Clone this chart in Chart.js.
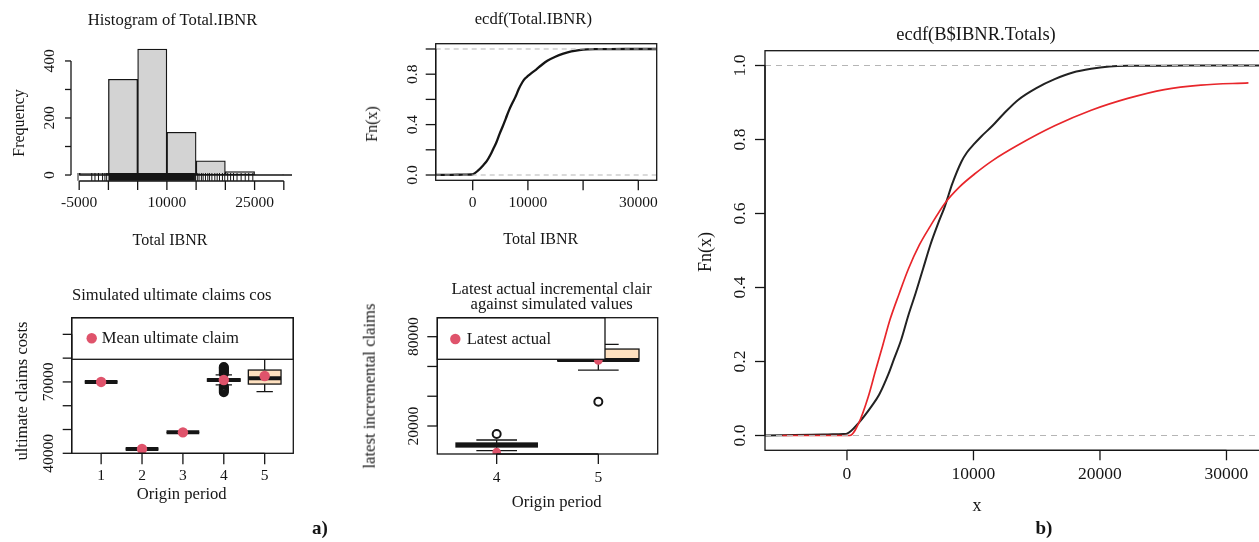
<!DOCTYPE html>
<html><head><meta charset="utf-8">
<script src="https://cdn.jsdelivr.net/npm/chart.js@4.4.1/dist/chart.umd.min.js"></script>
<style>
html,body{margin:0;padding:0;background:#fff;}
#page{position:relative;width:1259px;height:542px;overflow:hidden;background:#fff;font-family:"Liberation Serif","Times New Roman",serif;color:#151515;}
canvas{position:absolute;left:0;top:0;}
.t{position:absolute;white-space:nowrap;line-height:1;transform:translate(-50%,-50%);}
.r{transform:translate(-50%,-50%) rotate(-90deg);}
.l{transform:translate(0,-50%);}
</style></head><body><div id="page">
<canvas id="c1" width="1259" height="542"></canvas>
<canvas id="c2" width="1259" height="542"></canvas>
<canvas id="c3" width="1300" height="542"></canvas>
<canvas id="c4" width="1259" height="542"></canvas>
<canvas id="c5" width="1259" height="542"></canvas>

<div class="t" style="left:172.5px;top:19.5px;font-size:16.6px">Histogram of Total.IBNR</div>
<div class="t r" style="left:18.5px;top:123px;font-size:16px">Frequency</div>
<div class="t" style="left:170px;top:240px;font-size:16px">Total IBNR</div>
<div class="t" style="left:533.3px;top:19.3px;font-size:16.6px">ecdf(Total.IBNR)</div>
<div class="t r" style="left:371.7px;top:123.8px;font-size:16px">Fn(x)</div>
<div class="t" style="left:540.7px;top:239px;font-size:16px">Total IBNR</div>
<div class="t" style="left:171.7px;top:295px;font-size:16.6px">Simulated ultimate claims cos</div>
<div class="t r" style="left:21.7px;top:391px;font-size:16.6px">ultimate claims costs</div>
<div class="t" style="left:181.7px;top:494px;font-size:16.6px">Origin period</div>
<div class="t" style="left:551.7px;top:289.3px;font-size:16.6px">Latest actual incremental clair</div>
<div class="t" style="left:551.7px;top:304.3px;font-size:16.6px">against simulated values</div>
<div class="t r" style="left:370px;top:386px;font-size:16.6px">latest incremental claims</div>
<div class="t" style="left:556.7px;top:501.7px;font-size:16.6px">Origin period</div>
<div class="t l" style="left:101.7px;top:338.3px;font-size:16.6px">Mean ultimate claim</div>
<div class="t l" style="left:466.7px;top:339px;font-size:16.6px">Latest actual</div>
<div class="t" style="left:320px;top:526.7px;font-size:19px;font-weight:bold">a)</div>
<div class="t" style="left:976px;top:34px;font-size:18.5px">ecdf(B$IBNR.Totals)</div>
<div class="t r" style="left:705px;top:252px;font-size:18px">Fn(x)</div>
<div class="t" style="left:977px;top:505px;font-size:18px">x</div>
<div class="t" style="left:1044px;top:527px;font-size:19px;font-weight:bold">b)</div>
</div>
<script>
// ---------------- DATA ----------------
const histBinStart = [-5000, 0, 5000, 10000, 15000, 20000, 25000];
const histBinEnd   = [0, 5000, 10000, 15000, 20000, 25000, 30000];
const histCounts   = [6, 336, 442, 150, 50, 12, 1];
const rugDenseRange = [0, 14800];
const rugSparse = [-5200, -2850, -2300, -1700, -1000, -600, -300, 14900, 15200, 15500, 15900, 16200, 16600, 17000, 17300, 17700, 18200, 18600, 19000, 19500, 19900, 20400, 20900, 21400, 22000, 22700, 23400, 24000, 24700];
const histXTicks  = [-5000, 0, 5000, 10000, 15000, 20000, 25000, 30000];
const histXLabels = ['-5000', '', '', '10000', '', '', '25000', ''];
const histYTicks  = [0, 100, 200, 300, 400];
const histYLabels = ['0', '', '200', '', '400'];

const ecdfX = [-7000, -5200, -2800, -1500, -300, 0, 950, 1965, 2540, 3265, 3700, 4280, 4855, 5430, 6010, 6590, 7170, 7745, 7900, 8320, 9045, 9480, 10000, 10635, 11500, 12370, 13525, 14970, 16420, 17860, 19300, 20750, 22200, 25000, 31900, 40000];
const ecdfY = [0, 0.001, 0.002, 0.003, 0.004, 0.005, 0.035, 0.08, 0.11, 0.165, 0.205, 0.258, 0.325, 0.385, 0.45, 0.515, 0.57, 0.62, 0.636, 0.68, 0.74, 0.765, 0.786, 0.809, 0.837, 0.869, 0.907, 0.939, 0.963, 0.981, 0.991, 0.997, 0.999, 0.9995, 1, 1];
const fitX = [-5100, 230, 950, 1676, 2254, 2832, 3410, 4133, 4855, 5722, 6590, 7745, 8900, 10058, 11503, 13526, 16416, 19306, 22196, 25087, 27977, 31734];
const fitY = [0, 0, 0.035, 0.104, 0.175, 0.244, 0.314, 0.384, 0.45, 0.515, 0.566, 0.628, 0.672, 0.706, 0.743, 0.785, 0.837, 0.879, 0.911, 0.935, 0.947, 0.953];
const ecdfXTicks = [0, 10000, 20000, 30000];
const ecdfXLabelsSmall = ['0', '10000', '', '30000'];
const ecdfXLabelsBig = ['0', '10000', '20000', '30000'];
const ecdfYTicks = [0, 0.2, 0.4, 0.6, 0.8, 1];
const ecdfYLabelsSmall = ['0.0', '', '0.4', '', '0.8', ''];
const ecdfYLabelsBig = ['0.0', '0.2', '0.4', '0.6', '0.8', '1.0'];

const ultPeriods = [1, 2, 3, 4, 5];
const ultQ1  = [70000, 41800, 48800, 70300, 69100];
const ultMed = [70000, 41800, 48800, 70800, 71500];
const ultQ3  = [70000, 41800, 48800, 71300, 75000];
const ultLo  = [70000, 41800, 48800, 68800, 65900];
const ultHi  = [70000, 41800, 48800, 73000, 79600];
const ultOut = [[], [], [], [65700, 66200, 66700, 67200, 67700, 68200, 73400, 73900, 74400, 74900, 75400, 75900, 76300], []];
const ultMean = [70000, 41800, 48800, 70800, 72500];
const ultXLabels = ['1', '2', '3', '4', '5'];
const ultYTicks = [40000, 50000, 60000, 70000, 80000, 90000];
const ultYLabels = ['40000', '', '', '70000', '', ''];

const latPeriods = [4, 5];
const latQ1  = [5900, 63700];
const latMed = [7240, 64300];
const latQ3  = [8580, 71700];
const latLo  = [3400, 57600];
const latHi  = [10600, 74900];
const latOut = [[14600], [36300]];
const latActual = [2500, 64000];
const latXLabels = ['4', '5'];
const latYTicks = [20000, 40000, 60000, 80000];
const latYLabels = ['20000', '', '', '80000'];

// ---------------- DRAWING ----------------
const FONT = '"Liberation Serif","Times New Roman",serif';
const INK = '#151515';
const RED = '#DF536B';
const extras = {};

function seg(ctx, x0, y0, x1, y1) { ctx.beginPath(); ctx.moveTo(x0, y0); ctx.lineTo(x1, y1); ctx.stroke(); }

const rStyle = {
  id: 'rstyle',
  beforeDatasetsDraw(chart) {
    const e = extras[chart.canvas.id]; if (!e || !e.boxes) return;
    const b = e.boxes, ctx = chart.ctx, xs = chart.scales.x, ys = chart.scales.y, a = chart.chartArea;
    ctx.save();
    ctx.beginPath(); ctx.rect(a.left, a.top, a.right - a.left, a.bottom - a.top); ctx.clip();
    ctx.strokeStyle = INK;
    for (let i = 0; i < b.pos.length; i++) {
      const px = xs.getPixelForValue(b.pos[i]);
      const hw = xs.getPixelForValue(b.pos[i] + 0.4) - px;
      const y1 = ys.getPixelForValue(b.q1[i]), y3 = ys.getPixelForValue(b.q3[i]);
      const ym = ys.getPixelForValue(b.med[i]);
      const ylo = ys.getPixelForValue(b.lo[i]), yhi = ys.getPixelForValue(b.hi[i]);
      ctx.lineWidth = 1.3;
      seg(ctx, px, y3, px, yhi); seg(ctx, px, y1, px, ylo);
      seg(ctx, px - hw / 2, yhi, px + hw / 2, yhi); seg(ctx, px - hw / 2, ylo, px + hw / 2, ylo);
      ctx.fillStyle = '#FFE1C0';
      ctx.fillRect(px - hw, y3, 2 * hw, y1 - y3);
      ctx.strokeRect(px - hw, y3, 2 * hw, y1 - y3);
      ctx.lineWidth = 4;
      seg(ctx, px - hw, ym, px + hw, ym);
    }
    ctx.restore();
  },
  afterDatasetsDraw(chart) {
    const e = extras[chart.canvas.id]; if (!e) return;
    const ctx = chart.ctx, a = chart.chartArea, xs = chart.scales.x, ys = chart.scales.y;
    ctx.save();
    ctx.strokeStyle = INK; ctx.fillStyle = INK; ctx.lineWidth = 1.3;
    if (e.legend) {
      const L = e.legend;
      ctx.fillStyle = '#fff';
      ctx.fillRect(L.x0, L.y0, L.x1 - L.x0, L.y1 - L.y0);
      ctx.strokeRect(L.x0, L.y0, L.x1 - L.x0, L.y1 - L.y0);
      ctx.fillStyle = RED;
      ctx.beginPath(); ctx.arc(L.dx, L.dy, 5.2, 0, Math.PI * 2); ctx.fill();
      ctx.fillStyle = INK;
    }
    if (e.box) ctx.strokeRect(a.left, a.top, a.right - a.left, a.bottom - a.top);
    ctx.font = e.font + 'px ' + FONT;
    ctx.textAlign = 'center'; ctx.textBaseline = 'middle';
    if (e.x) {
      const y0 = a.bottom;
      const p = e.x.ticks.map(v => xs.getPixelForValue(v));
      seg(ctx, p[0], y0, p[p.length - 1], y0);
      p.forEach((px, i) => {
        seg(ctx, px, y0, px, y0 + e.tick);
        if (e.x.labels[i]) ctx.fillText(e.x.labels[i], px, y0 + e.lab);
      });
    }
    if (e.y) {
      const x0 = a.left;
      const p = e.y.ticks.map(v => ys.getPixelForValue(v));
      seg(ctx, x0, p[0], x0, p[p.length - 1]);
      p.forEach((py, i) => {
        seg(ctx, x0, py, x0 - (e.ytick || e.tick), py);
        if (e.y.labels[i]) {
          ctx.save(); ctx.translate(x0 - e.lab, py); ctx.rotate(-Math.PI / 2);
          ctx.fillText(e.y.labels[i], 0, 0); ctx.restore();
        }
      });
    }
    ctx.restore();
  }
};
Chart.register(rStyle);

function makeChart(id, ar, xr, yr, datasets, extra, xTickOpt) {
  const cv = document.getElementById(id);
  extras[id] = extra;
  return new Chart(cv, {
    type: 'scatter',
    data: { datasets },
    options: {
      responsive: false, animation: false, devicePixelRatio: 1, events: [],
      layout: { padding: { left: ar[0], top: ar[1], right: cv.width - ar[2], bottom: cv.height - ar[3] } },
      plugins: { legend: { display: false }, tooltip: { enabled: false }, title: { display: false } },
      scales: {
        x: { type: 'linear', min: xr[0], max: xr[1], display: false, offset: false, ticks: xTickOpt || {} },
        y: { type: 'linear', min: yr[0], max: yr[1], display: false }
      }
    }
  });
}
function lineDS(xsArr, ysArr, color, width, extra) {
  return Object.assign({
    type: 'line', data: xsArr.map((x, i) => ({ x, y: ysArr[i] })),
    borderColor: color, borderWidth: width, pointRadius: 0, tension: 0, fill: false
  }, extra || {});
}

// Panel 1: histogram
makeChart('c1', [71, 43, 292, 181], [-6400, 31400], [-21, 463], [
  lineDS(rugDenseRange, [-6.6, -6.6], INK, 7.7, { borderCapStyle: 'butt', order: 0 }),
  { type: 'scatter', data: rugSparse.map(x => ({ x, y: -6.6 })), pointStyle: 'line', rotation: 90,
    pointRadius: 3.9, borderColor: INK, borderWidth: 1, order: 1 },
  lineDS([histBinStart[0], 31400], [0, 0], INK, 1.3, { order: 2 }),
  { type: 'bar', data: histBinStart.map((s, i) => ({ x: (s + histBinEnd[i]) / 2, y: [0, histCounts[i]] })),
    backgroundColor: '#d3d3d3', borderColor: INK, borderWidth: 1.3, borderSkipped: false,
    barPercentage: 1, categoryPercentage: 1, grouped: false, order: 3 }
], { font: 15.5, tick: 9, ytick: 6, lab: 21.5,
     x: { ticks: histXTicks, labels: histXLabels }, y: { ticks: histYTicks, labels: histYLabels } },
   { stepSize: 5000, includeBounds: false });

// Panel 2: small ecdf
makeChart('c2', [435.7, 43.7, 656.7, 180.3], [-6703, 33333], [-0.042, 1.042], [
  lineDS([-6703, 33333], [0, 0], '#b5b5b5', 1, { borderDash: [5, 4], order: 0 }),
  lineDS([-6703, 33333], [1, 1], '#b5b5b5', 1, { borderDash: [5, 4], order: 1 }),
  lineDS(ecdfX, ecdfY, INK, 2.3, { cubicInterpolationMode: 'monotone', order: 2 })
], { box: true, font: 15.5, tick: 10, lab: 23,
     x: { ticks: ecdfXTicks, labels: ecdfXLabelsSmall }, y: { ticks: ecdfYTicks, labels: ecdfYLabelsSmall } });

// Panel 3: big ecdf with fitted curve
makeChart('c3', [765, 50.7, 1270, 450.3], [-6480, 33440], [-0.04, 1.04], [
  lineDS([-6480, 33440], [0, 0], '#b5b5b5', 1.1, { borderDash: [6, 5], order: 0 }),
  lineDS([-6480, 33440], [1, 1], '#b5b5b5', 1.1, { borderDash: [6, 5], order: 1 }),
  lineDS(fitX, fitY, '#e8262b', 1.7, { cubicInterpolationMode: 'monotone', order: 2 }),
  lineDS(ecdfX, ecdfY, '#222', 2, { cubicInterpolationMode: 'monotone', order: 3 })
], { box: true, font: 17.5, tick: 10, lab: 24.5,
     x: { ticks: ecdfXTicks, labels: ecdfXLabelsBig }, y: { ticks: ecdfYTicks, labels: ecdfYLabelsBig } });

// Panel 4: simulated ultimate claims boxplots
makeChart('c4', [71.7, 317.7, 293.3, 453.3], [0.28, 5.70], [40000, 97000], [
  { type: 'scatter', data: ultPeriods.map((p, i) => ({ x: p, y: ultMean[i] })), pointRadius: 5.2,
    backgroundColor: RED, borderWidth: 0, clip: 0, order: 0 },
  { type: 'scatter', data: ultOut.flatMap((arr, i) => arr.map(v => ({ x: ultPeriods[i], y: v }))),
    pointRadius: 4, backgroundColor: 'rgba(255,255,255,0)', borderColor: INK, borderWidth: 2, clip: 0, order: 1 }
], { box: true, font: 15.5, tick: 11, ytick: 9, lab: 23,
     boxes: { pos: ultPeriods, q1: ultQ1, med: ultMed, q3: ultQ3, lo: ultLo, hi: ultHi },
     legend: { x0: 71.7, y0: 317.7, x1: 293.3, y1: 359.3, dx: 91.7, dy: 338.3 },
     x: { ticks: ultPeriods, labels: ultXLabels }, y: { ticks: ultYTicks, labels: ultYLabels } });

// Panel 5: latest actual vs simulated
makeChart('c5', [437.3, 317.7, 657.7, 454], [3.416, 5.584], [1190, 92760], [
  { type: 'scatter', data: latPeriods.map((p, i) => ({ x: p, y: latActual[i] })), pointRadius: 4.3,
    backgroundColor: RED, borderWidth: 0, clip: 0, order: 0 },
  { type: 'scatter', data: latOut.flatMap((arr, i) => arr.map(v => ({ x: latPeriods[i], y: v }))),
    pointRadius: 4, backgroundColor: 'rgba(255,255,255,0)', borderColor: INK, borderWidth: 2, clip: 0, order: 1 }
], { box: true, font: 15.5, tick: 10, lab: 23.5,
     boxes: { pos: latPeriods, q1: latQ1, med: latMed, q3: latQ3, lo: latLo, hi: latHi },
     legend: { x0: 437.3, y0: 317.7, x1: 605, y1: 359.3, dx: 455.3, dy: 339 },
     x: { ticks: latPeriods, labels: latXLabels }, y: { ticks: latYTicks, labels: latYLabels } });
</script>
</body></html>
